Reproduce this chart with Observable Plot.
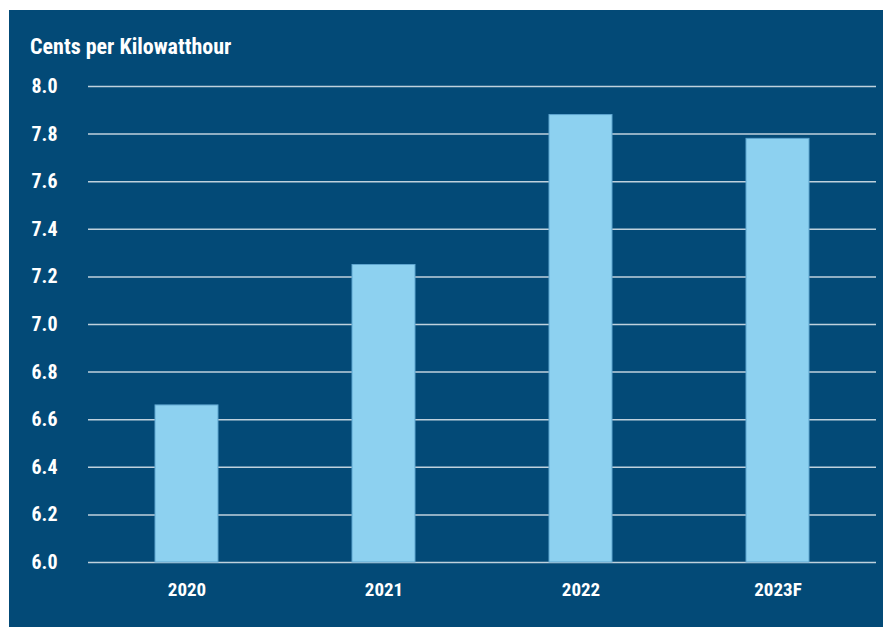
<!DOCTYPE html>
<html>
<head>
<meta charset="utf-8">
<script src="https://cdn.jsdelivr.net/npm/d3@7"></script>
<script src="https://cdn.jsdelivr.net/npm/@observablehq/plot@0.6"></script>
<style>
  html, body { margin: 0; padding: 0; background: #ffffff; }
  #panel { position: absolute; left: 9px; top: 10px; width: 874px; height: 617px; background: #034a77; }
  #title { position: absolute; left: 21px; top: 24px; color: #ffffff; font-family: "Liberation Sans Narrow", "Roboto Condensed", "DejaVu Sans Condensed", Roboto, sans-serif; font-weight: bold; font-size: 22px; }
  #chart { position: absolute; left: 0; top: 60px; }
</style>
</head>
<body>
<div id="panel">
  <div id="title">Cents per Kilowatthour</div>
  <div id="chart"></div>
</div>
<script>
const years = ["2020", "2021", "2022", "2023F"];
const values = [6.66, 7.25, 7.88, 7.78];
const yTicks = [6.0, 6.2, 6.4, 6.6, 6.8, 7.0, 7.2, 7.4, 7.6, 7.8, 8.0];

const data = years.map((year, i) => ({year, value: values[i]}));
const font = '"Liberation Sans Narrow", "Roboto Condensed", "DejaVu Sans Condensed", Roboto, sans-serif';

const chart = Plot.plot({
  width: 874,
  height: 556,
  marginTop: 16,
  marginBottom: 64,
  marginLeft: 79,
  marginRight: 7,
  style: { background: "transparent", color: "#ffffff", fontFamily: font, fontWeight: "bold", fontSize: "20px" },
  x: { domain: years, paddingInner: 0.68, paddingOuter: 0.34, label: null },
  y: { domain: [6, 8], label: null },
  marks: [
    Plot.ruleY(yTicks, { stroke: "#ffffff", strokeOpacity: 0.75, strokeWidth: 1.5 }),
    Plot.axisY({ ticks: yTicks, tickSize: 0, tickPadding: 31, tickFormat: d => d.toFixed(1), label: null, fontSize: 20 }),
    Plot.axisX({ tickSize: 0, tickPadding: 20, label: null, fontSize: 19 }),
    Plot.barY(data, { x: "year", y1: 6, y2: "value", fill: "#8dd1f0", stroke: "#5ea5cf", strokeWidth: 1 })
  ]
});
document.getElementById("chart").appendChild(chart);
</script>
</body>
</html>
